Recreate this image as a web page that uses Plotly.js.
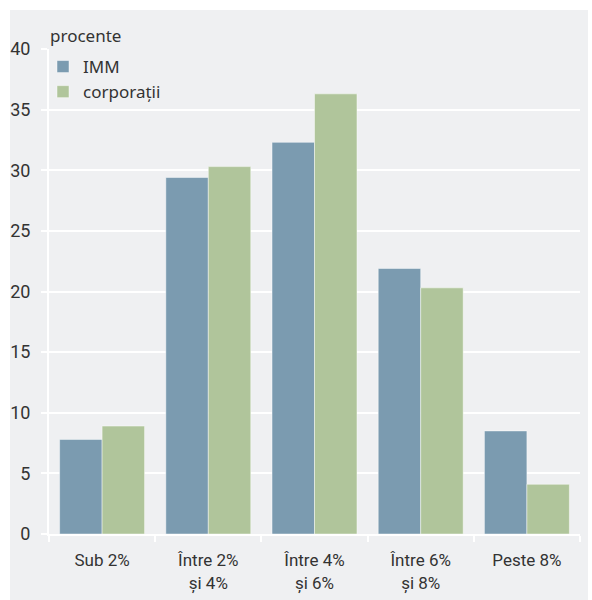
<!DOCTYPE html>
<html>
<head>
<meta charset="utf-8">
<script src="https://cdn.plot.ly/plotly-3.0.1.min.js"></script>
<style>
  html, body { margin: 0; padding: 0; background: #ffffff; }
  #chart { width: 592px; height: 600px; }
</style>
</head>
<body>
<div id="chart"></div>
<script>
// Distribution of interest rates by company size
const categories = ['Sub 2%', 'Între 2%<br>și 4%', 'Între 4%<br>și 6%', 'Între 6%<br>și 8%', 'Peste 8%'];
const seriesNames = ['IMM', 'corporații'];
const immValues = [7.8, 29.4, 32.3, 21.9, 8.5];
const corpValues = [8.9, 30.3, 36.3, 20.3, 4.1];
const yTicks = [0, 5, 10, 15, 20, 25, 30, 35, 40];

const bg = '#eff0f2';
const textColor = '#333333';
const narrow = 'Roboto, "Noto Sans", sans-serif';
const regular = '"Noto Sans", "Open Sans", sans-serif';

const W = 592, H = 600;
const margin = { l: 49, r: 12, t: 49, b: 66, autoexpand: false };
const plotW = W - margin.l - margin.r;
const plotH = H - margin.t - margin.b;
// pixel position -> paper fraction
const px = x => (x - margin.l) / plotW;
const py = y => (H - margin.b - y) / plotH;

const traces = [
  {
    type: 'bar', name: seriesNames[0], x: categories, y: immValues,
    marker: { color: '#7b9bb0', line: { color: 'rgba(255,255,255,0.45)', width: 1 } },
    hoverinfo: 'skip'
  },
  {
    type: 'bar', name: seriesNames[1], x: categories, y: corpValues,
    marker: { color: '#b0c59b', line: { color: 'rgba(255,255,255,0.45)', width: 1 } },
    hoverinfo: 'skip'
  }
];

const layout = {
  width: W, height: H,
  margin: margin,
  paper_bgcolor: bg,
  plot_bgcolor: bg,
  barmode: 'group',
  bargap: 0.2,
  bargroupgap: 0,
  showlegend: true,
  legend: {
    xref: 'container', yref: 'container',
    x: 43 / W, y: 1 - 49 / H,
    xanchor: 'left', yanchor: 'top',
    bgcolor: 'rgba(0,0,0,0)',
    font: { family: regular, size: 17, color: textColor },
    tracegroupgap: 0,
    itemwidth: 30
  },
  xaxis: {
    type: 'category',
    tickson: 'boundaries',
    tickangle: 0,
    ticks: 'outside', ticklen: 6, tickwidth: 2, tickcolor: '#ffffff',
    showline: true, linecolor: '#ffffff', linewidth: 2,
    showgrid: false,
    ticklabelstandoff: 10,
    tickfont: { family: narrow, size: 17, color: textColor },
    fixedrange: true
  },
  yaxis: {
    range: [0, 40],
    tickvals: yTicks,
    ticktext: yTicks.map(String),
    ticks: 'outside', ticklen: 6, tickwidth: 2, tickcolor: '#ffffff',
    showline: true, linecolor: '#ffffff', linewidth: 2,
    showgrid: true, gridcolor: '#ffffff', gridwidth: 2,
    zeroline: false,
    ticklabelstandoff: 7,
    tickfont: { family: narrow, size: 18, color: textColor },
    fixedrange: true
  },
  shapes: [
    // white frame around the grey panel
    { type: 'rect', xref: 'paper', yref: 'paper', x0: px(0), x1: px(W), y0: py(10), y1: py(0),
      fillcolor: '#ffffff', line: { width: 0 }, layer: 'above' },
    { type: 'rect', xref: 'paper', yref: 'paper', x0: px(0), x1: px(10), y0: py(H), y1: py(0),
      fillcolor: '#ffffff', line: { width: 0 }, layer: 'above' },
    { type: 'rect', xref: 'paper', yref: 'paper', x0: px(588), x1: px(W), y0: py(H), y1: py(0),
      fillcolor: '#ffffff', line: { width: 0 }, layer: 'above' }
  ],
  annotations: [
    { text: 'procente', xref: 'paper', yref: 'paper', x: px(48), y: py(35),
      xanchor: 'left', yanchor: 'middle', showarrow: false,
      font: { family: regular, size: 17, color: textColor } }
  ]
};

Plotly.newPlot('chart', traces, layout, { displayModeBar: false, staticPlot: true });
</script>
</body>
</html>
